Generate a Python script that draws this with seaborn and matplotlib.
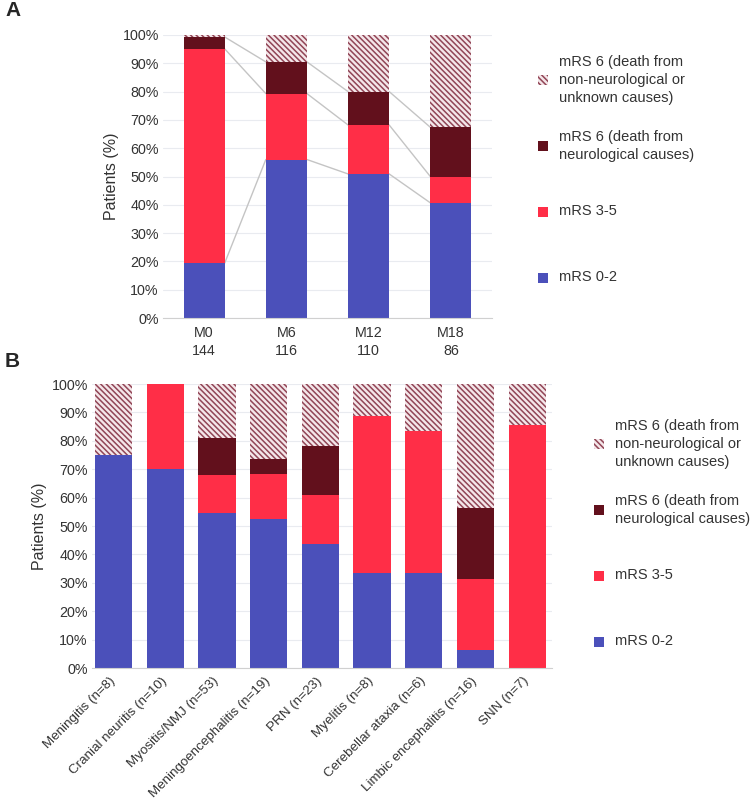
import numpy as np
import pandas as pd
import matplotlib
matplotlib.use("Agg")
import matplotlib.pyplot as plt
import seaborn as sns
from matplotlib.patches import Patch

# ---------------- data ----------------
timepoints = ["M0", "M6", "M12", "M18"]
n_patients = [144, 116, 110, 86]
a_mrs02 = [19.4, 56.0, 50.9, 40.7]
a_mrs35 = [75.7, 23.3, 17.3, 9.3]
a_death_neuro = [4.2, 11.2, 11.8, 17.4]
a_death_other = [0.7, 9.5, 20.0, 32.6]

syndromes = ["Meningitis (n=8)", "Cranial neuritis (n=10)", "Myositis/NMJ (n=53)",
             "Meningoencephalitis (n=19)", "PRN (n=23)", "Myelitis (n=8)",
             "Cerebellar ataxia (n=6)", "Limbic encephalitis (n=16)", "SNN (n=7)"]
b_mrs02 = [75.0, 70.0, 54.7, 52.6, 43.5, 33.3, 33.3, 6.3, 0.0]
b_mrs35 = [0.0, 30.0, 13.2, 15.8, 17.4, 55.6, 50.0, 25.0, 85.7]
b_death_neuro = [0.0, 0.0, 13.2, 5.3, 17.4, 0.0, 0.0, 25.0, 0.0]
b_death_other = [25.0, 0.0, 18.9, 26.3, 21.7, 11.1, 16.7, 43.7, 14.3]

legend_labels = ["mRS 6 (death from\nnon-neurological or\nunknown causes)",
                 "mRS 6 (death from\nneurological causes)",
                 "mRS 3-5",
                 "mRS 0-2"]
yticks = [0, 10, 20, 30, 40, 50, 60, 70, 80, 90, 100]

# ---------------- style ----------------
BLUE = "#4B50BA"
RED = "#FF2E47"
DARK = "#62101C"
HATCH_C = "#914556"
HATCH_FACE = "#F4E6E9"
HATCH = "\\" * 6
TXT = "#333333"

sns.set_style("white")
plt.rcParams["font.family"] = ["Liberation Sans", "DejaVu Sans"]
plt.rcParams["hatch.linewidth"] = 1.1
plt.rcParams["hatch.color"] = HATCH_C

fig = plt.figure(figsize=(7.5, 8.08), dpi=100)
W, H = 750, 808
axA = fig.add_axes([163 / W, 1 - 318 / H, 329 / W, 283 / H])
axB = fig.add_axes([92 / W, 1 - 668 / H, 460 / W, 284 / H])


def stacked(ax, cats, layers, width):
    cum = np.cumsum([np.asarray(v, float) for v, _, _ in layers], axis=0)
    for i in range(len(layers) - 1, -1, -1):
        _, color, hatch = layers[i]
        n0 = len(ax.patches)
        df = pd.DataFrame({"cat": cats, "val": cum[i]})
        sns.barplot(data=df, x="cat", y="val", order=cats, color=color,
                    saturation=1, width=width, errorbar=None, ax=ax,
                    linewidth=0, zorder=2)
        for p in ax.patches[n0:]:
            p.set_linewidth(0)
            if hatch:
                p.set_facecolor(HATCH_FACE)
                p.set_edgecolor(HATCH_C)
                p.set_hatch(hatch)
                if hasattr(p, "set_hatchcolor"):
                    p.set_hatchcolor(HATCH_C)
    return cum


def style_axis(ax, label_x):
    ax.set_ylim(0, 100)
    ax.set_yticks(yticks)
    ax.set_yticklabels([f"{v}%" for v in yticks])
    ax.yaxis.grid(True, color="#E9EBF0", lw=0.8)
    ax.set_axisbelow(True)
    for s in ["left", "right", "top"]:
        ax.spines[s].set_visible(False)
    ax.spines["bottom"].set_color("#D0D0D0")
    ax.spines["bottom"].set_linewidth(0.8)
    ax.tick_params(axis="both", length=0, colors=TXT, labelsize=10.3)
    ax.tick_params(axis="y", pad=3)
    ax.set_xlabel("")
    ax.set_ylabel("Patients (%)", fontsize=11.5, color=TXT)
    ax.yaxis.set_label_coords(label_x, 0.5)


# ---------------- panel A ----------------
layersA = [(a_mrs02, BLUE, None), (a_mrs35, RED, None),
           (a_death_neuro, DARK, None), (a_death_other, HATCH_FACE, HATCH)]
cumA = stacked(axA, timepoints, layersA, 0.5)
# connecting lines between bars
for k in range(3):
    for i in range(len(timepoints) - 1):
        axA.plot([i + 0.25, i + 0.75], [cumA[k][i], cumA[k][i + 1]],
                 color="#C4C4C4", lw=1.0, zorder=1)
axA.set_xlim(-0.5, 3.5)
style_axis(axA, -0.135)
axA.set_xticks(range(len(timepoints)))
axA.set_xticklabels([f"{t}\n{n}" for t, n in zip(timepoints, n_patients)],
                    linespacing=1.3)
axA.tick_params(axis="x", pad=6, labelsize=10.3)

# ---------------- panel B ----------------
layersB = [(b_mrs02, BLUE, None), (b_mrs35, RED, None),
           (b_death_neuro, DARK, None), (b_death_other, HATCH_FACE, HATCH)]
stacked(axB, syndromes, layersB, 0.72)
axB.set_xlim(-0.416, 8.48)
style_axis(axB, -0.098)
axB.set_xticks(range(len(syndromes)))
axB.set_xticklabels(syndromes, rotation=45, ha="right", va="center",
                    rotation_mode="anchor", fontsize=9.6)
axB.tick_params(axis="x", pad=8)

# ---------------- legends ----------------
def add_legend(x_px, top_px):
    handles = [Patch(facecolor=HATCH_FACE, edgecolor=HATCH_C, hatch=HATCH, linewidth=0),
               Patch(facecolor=DARK, linewidth=0),
               Patch(facecolor=RED, linewidth=0),
               Patch(facecolor=BLUE, linewidth=0)]
    labels = [legend_labels[0],
              "\n" + legend_labels[1] + "\n",
              "\n" + legend_labels[2] + "\n",
              "\n" + legend_labels[3] + "\n"]
    leg = fig.legend(handles, labels, loc="upper left",
                     bbox_to_anchor=(x_px / W, 1 - top_px / H),
                     bbox_transform=fig.transFigure, frameon=False,
                     borderpad=0, borderaxespad=0, fontsize=10.5,
                     handlelength=0.69, handleheight=0.69, handletextpad=0.75,
                     labelspacing=0.49)
    texts = leg.get_texts()
    for t in texts:
        t.set_color(TXT)
        t.set_linespacing(1.35)
    texts[3].set_linespacing(2.17)
    return leg

add_legend(538, 55)
add_legend(594, 419)

# ---------------- panel letters ----------------
fig.text(5 / W, 1 - 11 / H, "A", fontsize=15, fontweight="bold", va="center", ha="left")
fig.text(5 / W, 1 - 361 / H, "B", fontsize=15, fontweight="bold", va="center", ha="left")

fig.savefig("out.png", dpi=100)
